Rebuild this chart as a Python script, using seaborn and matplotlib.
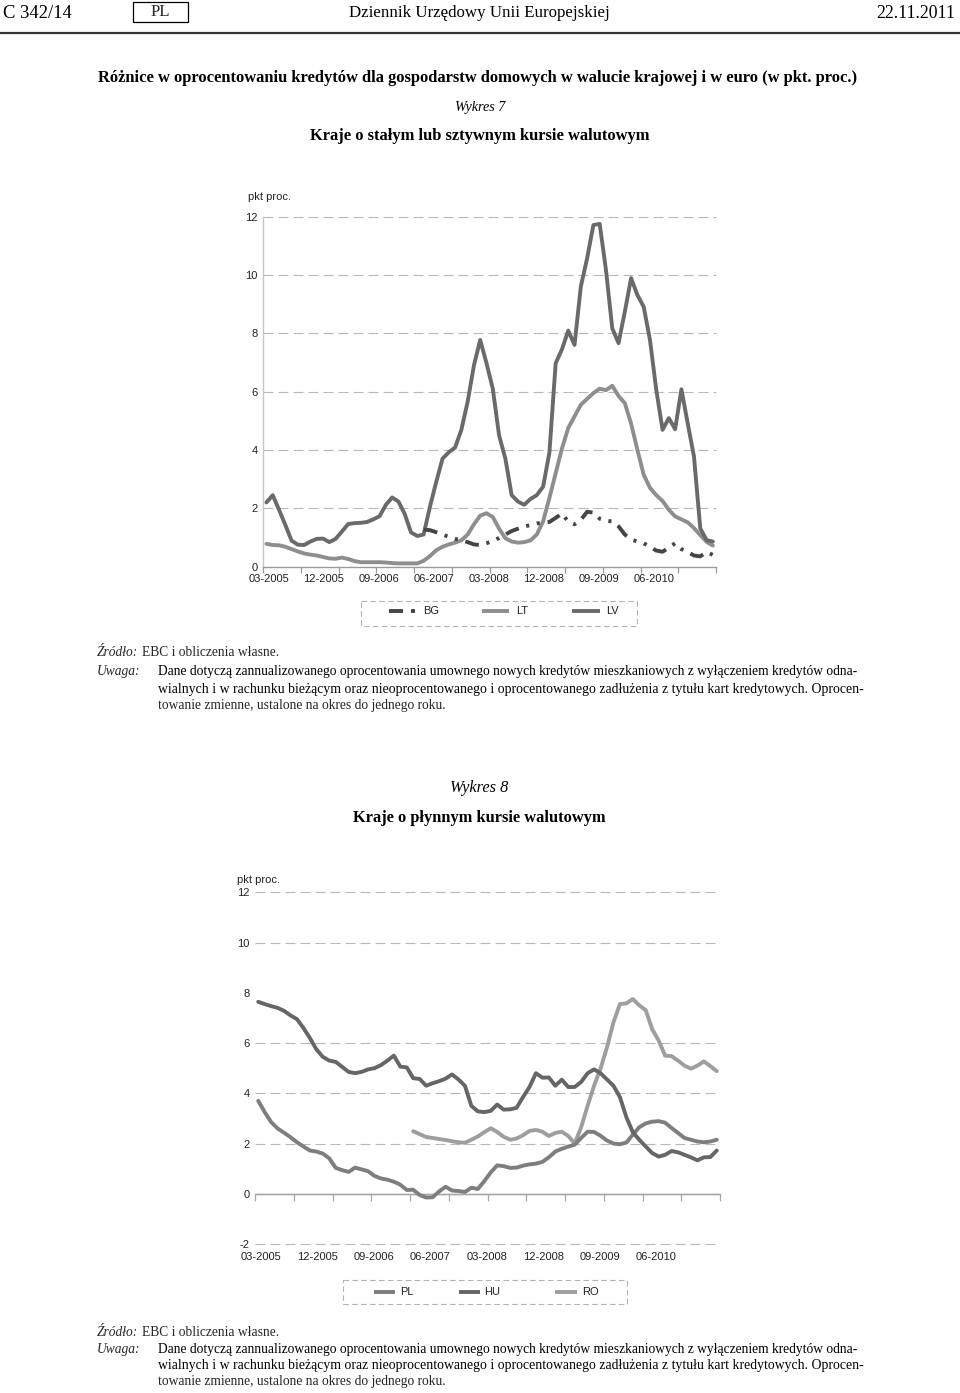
import numpy as np
import pandas as pd
import matplotlib
matplotlib.use("Agg")
import matplotlib.pyplot as plt
import seaborn as sns
from matplotlib.patches import Rectangle
from matplotlib.lines import Line2D

# ---------------- data ----------------
x_labels = ["03-2005", "12-2005", "09-2006", "06-2007", "03-2008", "12-2008", "09-2009", "06-2010"]
n_months = 72  # 03-2005 .. 02-2011

# Wykres 7
bg_start = 25
bg = [1.27, 1.25, 1.18, 1.10, 1.02, 0.95, 0.90, 0.84, 0.76, 0.74,
      0.80, 0.88, 0.98, 1.10, 1.22, 1.30, 1.38, 1.42, 1.48, 1.50,
      1.53, 1.67, 1.82, 1.54, 1.45, 1.60, 1.88, 1.85, 1.64, 1.57,
      1.55, 1.38, 1.10, 0.93, 0.86, 0.80, 0.68, 0.55, 0.51, 0.65,
      0.80, 0.60, 0.50, 0.38, 0.35, 0.50, 0.40]
lt = [0.78, 0.74, 0.73, 0.68, 0.60, 0.52, 0.45, 0.41, 0.38, 0.33,
      0.28, 0.27, 0.31, 0.26, 0.19, 0.15, 0.15, 0.15, 0.15, 0.14,
      0.12, 0.11, 0.11, 0.11, 0.11, 0.20, 0.36, 0.56, 0.68, 0.76,
      0.82, 0.90, 1.10, 1.45, 1.75, 1.83, 1.70, 1.30, 0.97, 0.86,
      0.82, 0.84, 0.90, 1.10, 1.55, 2.35, 3.20, 4.05, 4.75, 5.15,
      5.55, 5.75, 5.95, 6.10, 6.05, 6.20, 5.85, 5.60, 4.90, 4.00,
      3.15, 2.70, 2.45, 2.25, 1.95, 1.72, 1.62, 1.52, 1.32, 1.08,
      0.85, 0.72]
lv = [2.20, 2.45, 1.95, 1.43, 0.89, 0.75, 0.74, 0.86, 0.95, 0.96,
      0.84, 0.95, 1.20, 1.46, 1.49, 1.50, 1.53, 1.62, 1.73, 2.12,
      2.37, 2.23, 1.80, 1.17, 1.05, 1.10, 2.05, 2.90, 3.70, 3.92,
      4.08, 4.69, 5.65, 6.90, 7.77, 6.97, 6.10, 4.50, 3.70, 2.45,
      2.23, 2.12, 2.32, 2.45, 2.74, 3.90, 6.97, 7.45, 8.09, 7.60,
      9.60, 10.57, 11.71, 11.75, 10.17, 8.17, 7.66, 8.74, 9.89, 9.31,
      8.91, 7.77, 6.06, 4.69, 5.09, 4.71, 6.08, 4.91, 3.77, 1.31,
      0.91, 0.86]

# Wykres 8
pl = [3.70, 3.25, 2.85, 2.60, 2.43, 2.25, 2.05, 1.88, 1.72, 1.68,
      1.60, 1.41, 1.03, 0.94, 0.87, 1.04, 0.97, 0.90, 0.71, 0.61,
      0.56, 0.48, 0.36, 0.15, 0.16, -0.05, -0.15, -0.14, 0.09, 0.28,
      0.13, 0.11, 0.07, 0.24, 0.19, 0.50, 0.85, 1.13, 1.10, 1.03,
      1.04, 1.12, 1.17, 1.20, 1.27, 1.45, 1.68, 1.79, 1.88, 1.95,
      2.22, 2.47, 2.46, 2.31, 2.12, 2.00, 1.97, 2.04, 2.35, 2.65,
      2.80, 2.87, 2.89, 2.83, 2.62, 2.42, 2.22, 2.15, 2.08, 2.05,
      2.08, 2.15]
hu = [7.64, 7.55, 7.47, 7.40, 7.28, 7.10, 6.95, 6.60, 6.20, 5.75,
      5.45, 5.30, 5.25, 5.05, 4.85, 4.80, 4.85, 4.95, 5.00, 5.12,
      5.30, 5.50, 5.06, 5.03, 4.60, 4.57, 4.30, 4.40, 4.48, 4.58,
      4.75, 4.55, 4.30, 3.50, 3.28, 3.25, 3.30, 3.55, 3.35, 3.36,
      3.42, 3.85, 4.25, 4.80, 4.62, 4.63, 4.30, 4.54, 4.25, 4.25,
      4.45, 4.80, 4.95, 4.80, 4.55, 4.30, 3.85, 3.05, 2.45, 2.15,
      1.88, 1.62, 1.48, 1.55, 1.70, 1.65, 1.55, 1.45, 1.33, 1.45,
      1.46, 1.72]
ro_start = 24
ro = [2.49, 2.37, 2.26, 2.22, 2.18, 2.14, 2.09, 2.05, 2.03, 2.15,
      2.28, 2.45, 2.61, 2.46, 2.27, 2.15, 2.20, 2.33, 2.50, 2.54,
      2.47, 2.30, 2.42, 2.47, 2.30, 2.00, 2.65, 3.50, 4.30, 4.98,
      5.83, 6.82, 7.55, 7.58, 7.75, 7.50, 7.31, 6.55, 6.10, 5.50,
      5.48, 5.30, 5.10, 4.98, 5.10, 5.27, 5.08, 4.88]

# ---------------- style ----------------
sns.set_theme(style="white")
SANS = ["Liberation Sans", "DejaVu Sans"]
SERIF = ["Liberation Serif", "DejaVu Serif"]
plt.rcParams["font.family"] = SANS

C_LV, C_LT, C_BG = "#6a6a6a", "#8e8e8e", "#454545"
C_HU, C_PL, C_RO = "#666666", "#7e7e7e", "#9e9e9e"
LW = 2.8
BG_DASH = (0, (3.6, 2.0, 0.8, 2.0, 0.8, 2.0))
GRID_KW = dict(color="#b8b8b8", lw=0.8, ls=(0, (9, 4.5)), zorder=0.5, clip_on=False)
TXT = "#222222"

W, H = 960, 1393
fig = plt.figure(figsize=(W / 100, H / 100), dpi=100)
fig.patch.set_facecolor("white")


def px_axes(x0, x1, y_top, y_bot):
    return fig.add_axes([x0 / W, 1 - y_bot / H, (x1 - x0) / W, (y_bot - y_top) / H])


# overlay for page text
ov = fig.add_axes([0, 0, 1, 1])
ov.set_xlim(0, W)
ov.set_ylim(H, 0)
ov.axis("off")
ov.patch.set_alpha(0)
renderer = fig.canvas.get_renderer()


def fit(s, x, y, w, ha="left", size=11, family=SERIF, **kw):
    t = ov.text(x, y, s, fontsize=size, ha=ha, va="center", family=family, color="black", **kw)
    bw = t.get_window_extent(renderer=renderer).width
    t.set_fontsize(size * w / bw)
    return t


def width_of(t):
    return t.get_window_extent(renderer=renderer).width


# header
fit("C 342/14", 3, 13, 69)
ov.add_patch(Rectangle((133, 2), 55, 20, fill=False, ec="black", lw=0.9))
hdr = fit("Dziennik Urzędowy Unii Europejskiej", 479.5, 13, 261, ha="center")
ov.text(160.5, 12, "PL", ha="center", va="center", family=SERIF, fontsize=hdr.get_fontsize())
fit("22.11.2011", 955, 13, 78, ha="right")
ov.add_line(Line2D([0, W], [33, 33], color="#333333", lw=1.6))

fit("Różnice w oprocentowaniu kredytów dla gospodarstw domowych w walucie krajowej i w euro (w pkt. proc.)",
    477.5, 78, 761, ha="center", weight="bold")
fit("Wykres 7", 480, 107, 50, ha="center", style="italic")
fit("Kraje o stałym lub sztywnym kursie walutowym", 480, 136, 340, ha="center", weight="bold")
fit("Wykres 8", 479, 788, 58, ha="center", style="italic")
fit("Kraje o płynnym kursie walutowym", 479.5, 818, 253, ha="center", weight="bold")

note1 = "Dane dotyczą zannualizowanego oprocentowania umownego nowych kredytów mieszkaniowych z wyłączeniem kredytów odna-"
note2 = "wialnych i w rachunku bieżącym oraz nieoprocentowanego i oprocentowanego zadłużenia z tytułu kart kredytowych. Oprocen-"
note3 = "towanie zmienne, ustalone na okres do jednego roku."


def notes(y_src, y1, y2, y3):
    t1 = fit(note1, 158, y1, 700)
    fs = t1.get_fontsize()
    fit(note2, 158, y2, 700, size=fs)
    ov.text(158, y3, note3, fontsize=fs, ha="left", va="center", family=SERIF)
    ov.text(97, y1, "Uwaga:", fontsize=fs, ha="left", va="center", family=SERIF, style="italic")
    a = ov.text(97, y_src, "Źródło:", fontsize=fs, ha="left", va="center", family=SERIF, style="italic")
    ov.text(97 + width_of(a) + 4, y_src, "EBC i obliczenia własne.", fontsize=fs, ha="left",
            va="center", family=SERIF)


notes(653, 672, 689, 706)
notes(1333, 1349, 1366, 1382)


# ---------------- charts ----------------
label_pos = [0.9 + 8.75 * k for k in range(len(x_labels))]
pos = np.arange(n_months) + 0.5


def style_axis(ax, ymin, ymax, grid_vals):
    ax.set_xlim(0, n_months)
    ax.set_ylim(ymin, ymax)
    ax.set_xticks(label_pos)
    ax.set_xticklabels(x_labels)
    yt = list(range(ymin, ymax + 1, 2))
    ax.set_yticks(yt)
    ax.set_yticklabels([str(v) for v in yt])
    ax.tick_params(axis="x", which="major", length=0, pad=5.5, labelsize=8, labelcolor=TXT)
    ax.tick_params(axis="y", which="major", length=0, pad=4, labelsize=8, labelcolor=TXT)
    for v in grid_vals:
        ax.axhline(v, **GRID_KW)
    ax.set_xlabel("")
    ax.set_ylabel("")
    ax.patch.set_alpha(0)


# Wykres 7
ax1 = px_axes(263.3, 716, 216.6, 566.6)
sns.lineplot(x=pos, y=lt, ax=ax1, color=C_LT, lw=LW, zorder=3)
sns.lineplot(x=pos, y=lv, ax=ax1, color=C_LV, lw=LW, zorder=4)
sns.lineplot(x=pos[bg_start:], y=bg, ax=ax1, color=C_BG, lw=LW, linestyle=BG_DASH, zorder=5)
style_axis(ax1, 0, 12, [2, 4, 6, 8, 10, 12])
for s in ["top", "right"]:
    ax1.spines[s].set_visible(False)
ax1.spines["left"].set_color("#c6c6c6")
ax1.spines["left"].set_linewidth(1.0)
ax1.spines["bottom"].set_color("#9a9a9a")
ax1.spines["bottom"].set_linewidth(1.0)
ax1.set_xticks(np.arange(0, n_months + 1, 6), minor=True)
ax1.tick_params(axis="x", which="minor", length=4, width=0.9, color="#9a9a9a", direction="out", bottom=True)
ov.text(248, 197, "pkt proc.", fontsize=8, ha="left", va="center", family=SANS, color=TXT)

# Wykres 8
ax2 = px_axes(255, 720, 892.3, 1244)
sns.lineplot(x=pos, y=pl, ax=ax2, color=C_PL, lw=LW, zorder=4)
sns.lineplot(x=pos, y=hu, ax=ax2, color=C_HU, lw=LW, zorder=5)
sns.lineplot(x=pos[ro_start:], y=ro, ax=ax2, color=C_RO, lw=LW, zorder=3)
style_axis(ax2, -2, 12, [-2, 2, 4, 6, 10, 12])
for s in ax2.spines.values():
    s.set_visible(False)
ax2.axhline(0, color="#a8a8a8", lw=1.0, zorder=0.6)
sec = ax2.secondary_xaxis(2 / 14)
sec.set_xticks(np.arange(0, n_months + 1, 6))
sec.set_xticklabels([])
sec.tick_params(axis="x", length=5, width=0.9, color="#a8a8a8", direction="out")
sec.spines["bottom"].set_color("#a8a8a8")
sec.spines["bottom"].set_linewidth(1.0)
ov.text(237, 880, "pkt proc.", fontsize=8, ha="left", va="center", family=SANS, color=TXT)

# ---------------- legends ----------------
LEG_BOX = dict(fill=False, ec="#b4b4b4", lw=0.8, ls=(0, (5, 3)))
ov.add_patch(Rectangle((361, 601), 276, 25, **LEG_BOX))
yl = 611
ov.add_line(Line2D([389, 403], [yl, yl], color=C_BG, lw=LW, solid_capstyle="butt"))
ov.add_line(Line2D([411, 414.5], [yl, yl], color=C_BG, lw=LW, solid_capstyle="butt"))
ov.text(423, yl, "BG", fontsize=8, va="center", family=SANS, color=TXT)
ov.add_line(Line2D([482, 509], [yl, yl], color=C_LT, lw=LW, solid_capstyle="butt"))
ov.text(516.5, yl, "LT", fontsize=8, va="center", family=SANS, color=TXT)
ov.add_line(Line2D([572, 600], [yl, yl], color=C_LV, lw=LW, solid_capstyle="butt"))
ov.text(606.5, yl, "LV", fontsize=8, va="center", family=SANS, color=TXT)

ov.add_patch(Rectangle((343, 1280), 284, 24, **LEG_BOX))
yl = 1292
ov.add_line(Line2D([374, 395], [yl, yl], color=C_PL, lw=LW, solid_capstyle="butt"))
ov.text(400, yl, "PL", fontsize=8, va="center", family=SANS, color=TXT)
ov.add_line(Line2D([459, 480], [yl, yl], color=C_HU, lw=LW, solid_capstyle="butt"))
ov.text(484, yl, "HU", fontsize=8, va="center", family=SANS, color=TXT)
ov.add_line(Line2D([555, 577], [yl, yl], color=C_RO, lw=LW, solid_capstyle="butt"))
ov.text(582, yl, "RO", fontsize=8, va="center", family=SANS, color=TXT)

fig.savefig("out.png", dpi=100, facecolor="white")
